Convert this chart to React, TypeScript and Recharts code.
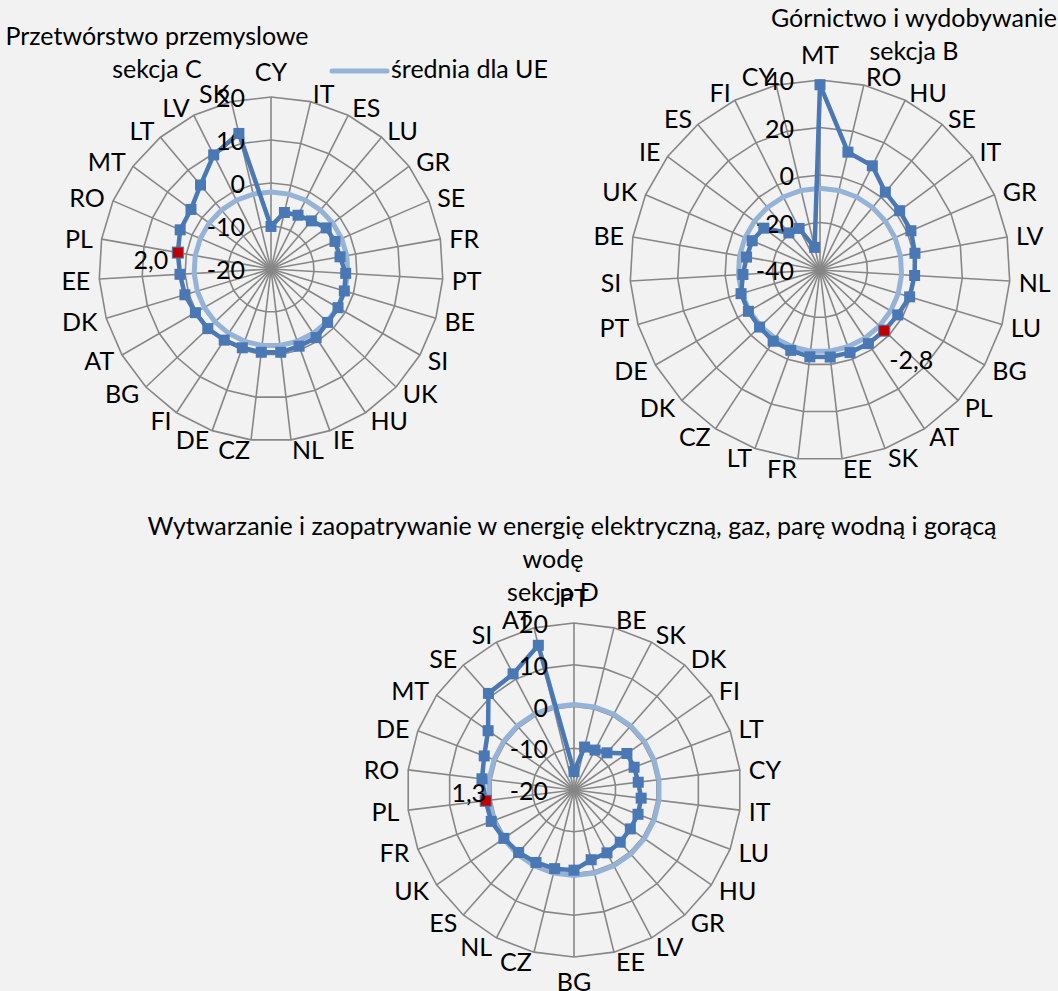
import React from "react";
import { RadarChart, Radar, PolarGrid, PolarAngleAxis, PolarRadiusAxis } from "recharts";

const FONT = "Lato, 'Open Sans', sans-serif";
const FS = 25;
const DARK = "#4A78B4";
const LIGHT = "#95B3D7";
const GRID = "#878787";
const BG = "#F2F2F2";

// sekcja C - przetwórstwo przemysłowe
const countriesC = ["CY", "IT", "ES", "LU", "GR", "SE", "FR", "PT", "BE", "SI", "UK", "HU", "IE", "NL", "CZ", "DE", "FI", "BG", "AT", "DK", "EE", "PL", "RO", "MT", "LT", "LV", "SK"];
const valuesC = [-10.1, -6.5, -6.0, -5.4, -4.0, -3.8, -3.7, -2.6, -2.2, -2.0, -1.9, -0.9, -0.9, -0.5, -0.5, -0.5, -0.2, 0.2, 0.3, 0.9, 1.2, 2.0, 3.0, 3.2, 5.5, 9.7, 12.4];
const euC = -2.1;
const ticksC = [-20, 20];

// sekcja B - górnictwo
const countriesB = ["MT", "RO", "HU", "SE", "IT", "GR", "LV", "NL", "LU", "BG", "PL", "AT", "SK", "EE", "FR", "LT", "CZ", "DK", "DE", "PT", "SI", "BE", "UK", "IE", "ES", "FI", "CY"];
const valuesB = [38.0, 11.0, 9.1, 2.8, 1.8, 1.7, 0.6, -0.1, -0.6, -2.2, -2.8, -2.9, -3.0, -3.1, -3.2, -4.0, -4.1, -5.0, -5.2, -5.3, -7.5, -8.6, -8.9, -10.5, -19.6, -20.4, -30.2];
const euB = -5.6;
const ticksB = [-40, 40];

// sekcja D - energia
const countriesD = ["PT", "BE", "SK", "DK", "FI", "LT", "CY", "IT", "LU", "HU", "GR", "LV", "EE", "BG", "CZ", "NL", "ES", "UK", "FR", "PL", "RO", "DE", "MT", "SE", "SI", "AT"];
const valuesD = [-15.6, -9.4, -9.2, -8.1, -4.6, -4.6, -4.5, -3.8, -3.6, -3.6, -3.3, -3.0, -2.8, -0.8, -0.6, -0.4, 0.0, 0.4, 1.2, 1.3, 2.2, 3.0, 5.0, 10.9, 11.4, 15.7];
const euD = 0.5;
const ticksD = [-20, 20];

const HIGHLIGHT = "PL";

const toRows = (countries: string[], values: number[], eu: number) =>
  countries.map((country, i) => ({ country, value: values[i], eu }));

const fmt = (v: number) => v.toFixed(1).replace(".", ",");

function makeAngleTick(cx: number, cy: number) {
  return (props: any) => {
    const { x, y, payload } = props;
    const dx = x - cx;
    const dy = y - cy;
    const d = Math.hypot(dx, dy) || 1;
    const s = dx / d;
    const c = -dy / d;
    let anchor = "middle";
    let yy = y;
    if (s > 0.05) anchor = "start";
    else if (s < -0.05) anchor = "end";
    else yy = y - c * (c > 0 ? 17 : 15);
    return (
      <text x={x} y={yy} textAnchor={anchor} dominantBaseline="central" fontFamily={FONT} fontSize={FS} fill="#000">
        {payload.value}
      </text>
    );
  };
}

const radiusTick = (props: any) => {
  const { x, y, payload } = props;
  return (
    <text x={x - 26} y={y} textAnchor="end" dominantBaseline="central" fontFamily={FONT} fontSize={FS} fill="#000">
      {payload.value}
    </text>
  );
};

function makeDot(countries: string[], labelDx: number, labelDy: number) {
  return (props: any) => {
    const { cx, cy, index } = props;
    const hit = countries[index] === HIGHLIGHT;
    return (
      <g key={`dot-${index}`}>
        <rect x={cx - 5.5} y={cy - 5.5} width={11} height={11} fill={hit ? "#C00000" : DARK} stroke={hit ? DARK : "none"} strokeWidth={1} />
        {hit && (
          <text x={cx + labelDx} y={cy + labelDy} textAnchor="middle" dominantBaseline="central" fontFamily={FONT} fontSize={FS} fill="#000">
            {fmt(props.value ?? props.payload?.value)}
          </text>
        )}
      </g>
    );
  };
}

type Cfg = {
  rows: any[];
  countries: string[];
  domain: number[];
  left: number;
  top: number;
  width: number;
  height: number;
  cx: number;
  cy: number;
  r: number;
  labelDx: number;
  labelDy: number;
};

function Radial({ rows, countries, domain, left, top, width, height, cx, cy, r, labelDx, labelDy }: Cfg) {
  return (
    <div style={{ position: "absolute", left, top, width, height }}>
      <RadarChart width={width} height={height} data={rows} cx={cx} cy={cy} outerRadius={r} margin={{ top: 0, right: 0, bottom: 0, left: 0 }}>
        <PolarGrid stroke={GRID} strokeWidth={1.6} />
        <PolarAngleAxis dataKey="country" tick={makeAngleTick(cx, cy)} tickSize={9} tickLine={false} axisLine={false} />
        <PolarRadiusAxis angle={90} domain={domain} tickCount={5} tick={radiusTick} axisLine={false} tickLine={false} />
        <Radar dataKey="eu" stroke={LIGHT} strokeWidth={5} fill="none" fillOpacity={0} dot={false} isAnimationActive={false} />
        <Radar dataKey="value" stroke={DARK} strokeWidth={4.5} fill="none" fillOpacity={0} dot={makeDot(countries, labelDx, labelDy)} isAnimationActive={false} />
      </RadarChart>
    </div>
  );
}

export default function App() {
  return (
    <div style={{ position: "absolute", left: 0, top: 0, width: 1058, height: 991, background: BG, overflow: "hidden" }}>
      <Radial rows={toRows(countriesC, valuesC, euC)} countries={countriesC} domain={ticksC}
        left={0} top={0} width={529} height={500} cx={271} cy={269} r={172} labelDx={-27} labelDy={6} />
      <Radial rows={toRows(countriesB, valuesB, euB)} countries={countriesB} domain={ticksB}
        left={529} top={0} width={529} height={500} cx={291} cy={270} r={190} labelDx={27} labelDy={28} />
      <Radial rows={toRows(countriesD, valuesD, euD)} countries={countriesD} domain={ticksD}
        left={0} top={480} width={1058} height={530} cx={574} cy={310} r={167} labelDx={-17} labelDy={-9} />
      <svg width={1058} height={991} style={{ position: "absolute", left: 0, top: 0, pointerEvents: "none" }}
        fontFamily={FONT} fontSize={FS} fill="#000">
        <text x={157} y={45} textAnchor="middle">Przetwórstwo przemyslowe</text>
        <text x={157} y={78} textAnchor="middle">sekcja C</text>
        <text x={914} y={27} textAnchor="middle">Górnictwo i wydobywanie</text>
        <text x={914} y={60} textAnchor="middle">sekcja B</text>
        <text x={572} y={535} textAnchor="middle">Wytwarzanie i zaopatrywanie w energię elektryczną, gaz, parę wodną i gorącą</text>
        <text x={553} y={568} textAnchor="middle">wodę</text>
        <text x={553} y={601} textAnchor="middle">sekcja D</text>
        <line x1={332} y1={71} x2={387} y2={71} stroke={LIGHT} strokeWidth={5} strokeLinecap="round" />
        <text x={391} y={78}>średnia dla UE</text>
      </svg>
    </div>
  );
}
